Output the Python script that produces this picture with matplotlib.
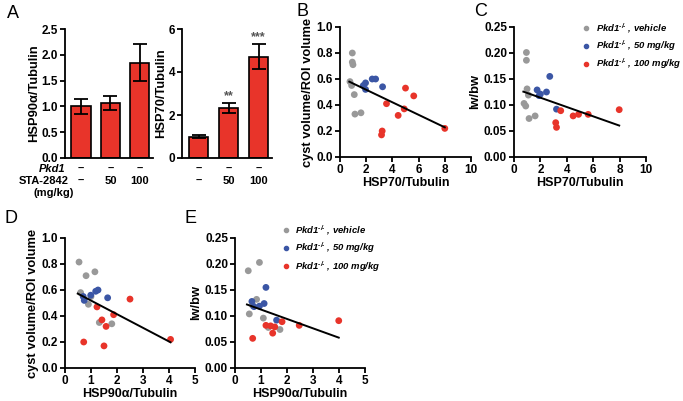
import numpy as np
import matplotlib
matplotlib.use("Agg")
import matplotlib.pyplot as plt
from matplotlib.transforms import blended_transform_factory

plt.rcParams["font.family"] = ["Liberation Sans", "DejaVu Sans"]
plt.rcParams["font.weight"] = "bold"
plt.rcParams["mathtext.fontset"] = "custom"
plt.rcParams["mathtext.rm"] = "Liberation Sans:bold:italic"
plt.rcParams["mathtext.it"] = "Liberation Sans:bold:italic"

GREY = "#999999"
BLUE = "#3b56a5"
RED = "#e8342a"

# panel A bars
hsp90_mean = [1.0, 1.07, 1.85]
hsp90_err = [0.15, 0.14, 0.36]
hsp70_mean = [1.0, 2.33, 4.72]
hsp70_err = [0.09, 0.23, 0.58]
hsp70_stars = ["", "**", "***"]
pkd1_row = ["–", "–", "–"]
sta_row = ["–", "50", "100"]

# panel B / C : HSP70/Tubulin
veh_hsp70 = [0.94, 0.94, 0.99, 0.76, 0.89, 1.09, 1.14, 1.60]
veh_cyst_b = [0.80, 0.73, 0.71, 0.58, 0.55, 0.48, 0.33, 0.34]
veh_lwbw_c = [0.201, 0.186, 0.131, 0.103, 0.098, 0.119, 0.074, 0.079]
mid_hsp70 = [1.78, 1.95, 1.95, 2.46, 2.72, 3.25]
mid_cyst_b = [0.55, 0.57, 0.52, 0.60, 0.60, 0.54]
mid_hsp70_c = [1.75, 2.00, 2.46, 2.71, 3.22, 1.90]
mid_lwbw_c = [0.129, 0.121, 0.125, 0.155, 0.092, 0.118]
hi_hsp70 = [3.55, 5.00, 5.63, 4.44, 4.90, 3.22, 3.17, 8.00]
hi_cyst_b = [0.41, 0.53, 0.47, 0.32, 0.37, 0.20, 0.17, 0.22]
hi_hsp70_c = [3.54, 3.16, 3.22, 4.48, 4.89, 5.62, 7.97]
hi_lwbw_c = [0.089, 0.066, 0.057, 0.079, 0.082, 0.082, 0.091]

# panel D / E : HSP90a/Tubulin
veh_hsp90_d = [0.54, 0.81, 1.15, 0.60, 1.00, 0.90, 1.32, 1.80]
veh_cyst_d = [0.815, 0.71, 0.74, 0.58, 0.55, 0.49, 0.35, 0.34]
mid_hsp90_d = [0.70, 0.74, 0.99, 1.18, 1.27, 1.64]
mid_cyst_d = [0.55, 0.52, 0.56, 0.59, 0.60, 0.54]
hi_hsp90_d = [1.23, 2.50, 1.87, 1.42, 1.58, 0.72, 1.50, 4.06]
hi_cyst_d = [0.47, 0.53, 0.41, 0.37, 0.32, 0.20, 0.17, 0.22]
veh_hsp90_e = [0.51, 0.94, 0.83, 0.55, 1.09, 1.28, 1.73, 0.68]
veh_lwbw_e = [0.187, 0.203, 0.132, 0.104, 0.096, 0.078, 0.074, 0.120]
mid_hsp90_e = [1.19, 0.65, 1.12, 0.94, 0.73, 1.60]
mid_lwbw_e = [0.155, 0.128, 0.124, 0.119, 0.118, 0.092]
hi_hsp90_e = [1.19, 1.37, 1.53, 1.81, 1.45, 0.68, 2.47, 3.99]
hi_lwbw_e = [0.082, 0.081, 0.079, 0.089, 0.067, 0.057, 0.082, 0.091]

legend_labels = [r"Pkd1$^{\text{-/-}}$ , vehicle",
                 r"Pkd1$^{\text{-/-}}$ , 50 mg/kg",
                 r"Pkd1$^{\text{-/-}}$ , 100 mg/kg"]

W, H = 683, 401
YLABEL_FS = 9.3
XLABEL_FS = 9
fig = plt.figure(figsize=(W / 100, H / 100), dpi=100)


def px_axes(x0, x1, ytop, ybot):
    return fig.add_axes([x0 / W, 1 - ybot / H, (x1 - x0) / W, (ybot - ytop) / H])


def style(ax):
    for s in ["top", "right"]:
        ax.spines[s].set_visible(False)
    for s in ["left", "bottom"]:
        ax.spines[s].set_linewidth(1.3)
    ax.tick_params(width=1.3, length=3.5, labelsize=8.5, pad=1.5)
    for lab in ax.get_xticklabels() + ax.get_yticklabels():
        lab.set_fontweight("bold")


def bars(ax, mean, err, ymax, yticks, fmt):
    x = np.arange(len(mean))
    ax.bar(x, mean, width=0.66, color=RED, edgecolor="black", linewidth=1.2, zorder=2)
    ax.errorbar(x, mean, yerr=err, fmt="none", ecolor="black", elinewidth=1.3,
                capsize=5, capthick=1.3, zorder=3)
    ax.set_xlim(-0.55, 2.45)
    ax.set_ylim(0, ymax)
    ax.set_yticks(yticks)
    ax.set_yticklabels([fmt % t for t in yticks])
    ax.set_xticks([])
    style(ax)


def scatter(ax, groups, xmax, xticks, ymax, yticks, fmt):
    allx, ally = [], []
    for gx, gy, c in groups:
        ax.scatter(gx, gy, s=24, color=c, edgecolors="none", zorder=3)
        allx += gx
        ally += gy
    k, b = np.polyfit(allx, ally, 1)
    xs = np.array([min(allx) - 0.05, max(allx)])
    ax.plot(xs, k * xs + b, color="black", lw=1.4, zorder=4)
    ax.set_xlim(0, xmax)
    ax.set_xticks(xticks)
    ax.set_ylim(0, ymax)
    ax.set_yticks(yticks)
    ax.set_yticklabels([fmt % t for t in yticks])
    style(ax)


def legend(ax, x, y):
    handles = [plt.Line2D([], [], ls="none", marker="o", ms=3, color=c)
               for c in [GREY, BLUE, RED]]
    ax.legend(handles, legend_labels, loc="upper left", bbox_to_anchor=(x, y),
              frameon=False, handletextpad=0.6, labelspacing=0.38, handlelength=0.8,
              borderpad=0, borderaxespad=0,
              prop={"size": 6.8, "weight": "bold", "style": "italic"})


# A left
axA1 = px_axes(65, 153, 29, 158)
bars(axA1, hsp90_mean, hsp90_err, 2.5, [0, 0.5, 1.0, 1.5, 2.0, 2.5], "%.1f")
axA1.set_ylabel("HSP90α/Tubulin", fontsize=YLABEL_FS, fontweight="bold", labelpad=1)
tr = blended_transform_factory(axA1.transData, axA1.transAxes)
for i in range(3):
    axA1.text(i, -0.085, pkd1_row[i], transform=tr, ha="center", va="center", fontsize=8)
    axA1.text(i, -0.18, sta_row[i], transform=tr, ha="center", va="center", fontsize=8)
axA1.text(-0.55, -0.085, "Pkd1", transform=tr, ha="right", va="center", fontsize=8,
          style="italic")
axA1.text(-0.42, -0.18, "STA-2842", transform=tr, ha="right", va="center", fontsize=8)
axA1.text(-0.95, -0.27, "(mg/kg)", transform=tr, ha="center", va="center", fontsize=8)

# A right
axA2 = px_axes(182, 272, 29, 158)
bars(axA2, hsp70_mean, hsp70_err, 6, [0, 2, 4, 6], "%d")
axA2.set_ylabel("HSP70/Tubulin", fontsize=YLABEL_FS, fontweight="bold", labelpad=1)
tr = blended_transform_factory(axA2.transData, axA2.transAxes)
for i in range(3):
    axA2.text(i, -0.085, pkd1_row[i], transform=tr, ha="center", va="center", fontsize=8)
    axA2.text(i, -0.18, sta_row[i], transform=tr, ha="center", va="center", fontsize=8)
    if hsp70_stars[i]:
        axA2.text(i, hsp70_mean[i] + hsp70_err[i] + 0.05, hsp70_stars[i], ha="center",
                  va="bottom", fontsize=9, color="#555555")

# B
axB = px_axes(340, 471, 27, 157)
scatter(axB, [(veh_hsp70, veh_cyst_b, GREY), (mid_hsp70, mid_cyst_b, BLUE),
              (hi_hsp70, hi_cyst_b, RED)],
        10, [0, 2, 4, 6, 8, 10], 1.0, [0, 0.2, 0.4, 0.6, 0.8, 1.0], "%.1f")
axB.set_ylabel("cyst volume/ROI volume", fontsize=YLABEL_FS, fontweight="bold", labelpad=2)
axB.set_xlabel("HSP70/Tubulin", fontsize=XLABEL_FS, fontweight="bold", labelpad=1)

# C
axC = px_axes(514, 646, 27, 157)
scatter(axC, [(veh_hsp70, veh_lwbw_c, GREY), (mid_hsp70_c, mid_lwbw_c, BLUE),
              (hi_hsp70_c, hi_lwbw_c, RED)],
        10, [0, 2, 4, 6, 8, 10], 0.25, [0, 0.05, 0.10, 0.15, 0.20, 0.25], "%.2f")
axC.set_ylabel("lw/bw", fontsize=YLABEL_FS, fontweight="bold", labelpad=2)
axC.set_xlabel("HSP70/Tubulin", fontsize=XLABEL_FS, fontweight="bold", labelpad=1)
legend(axC, 0.52, 1.045)

# D
axD = px_axes(65, 195, 238, 368)
scatter(axD, [(veh_hsp90_d, veh_cyst_d, GREY), (mid_hsp90_d, mid_cyst_d, BLUE),
              (hi_hsp90_d, hi_cyst_d, RED)],
        5, [0, 1, 2, 3, 4, 5], 1.0, [0, 0.2, 0.4, 0.6, 0.8, 1.0], "%.1f")
axD.set_ylabel("cyst volume/ROI volume", fontsize=YLABEL_FS, fontweight="bold", labelpad=2)
axD.set_xlabel("HSP90α/Tubulin", fontsize=XLABEL_FS, fontweight="bold", labelpad=1)

# E
axE = px_axes(235, 365, 238, 368)
scatter(axE, [(veh_hsp90_e, veh_lwbw_e, GREY), (mid_hsp90_e, mid_lwbw_e, BLUE),
              (hi_hsp90_e, hi_lwbw_e, RED)],
        5, [0, 1, 2, 3, 4, 5], 0.25, [0, 0.05, 0.10, 0.15, 0.20, 0.25], "%.2f")
axE.set_ylabel("lw/bw", fontsize=YLABEL_FS, fontweight="bold", labelpad=2)
axE.set_xlabel("HSP90α/Tubulin", fontsize=XLABEL_FS, fontweight="bold", labelpad=1)
legend(axE, 0.36, 1.11)

# panel letters
for letter, x, y in [("A", 7, 13), ("B", 296, 12), ("C", 474, 12), ("D", 5, 219),
                     ("E", 185, 219)]:
    fig.text(x / W, 1 - y / H, letter, fontsize=13, fontweight="normal", va="center")

fig.savefig("out.png", dpi=100)
